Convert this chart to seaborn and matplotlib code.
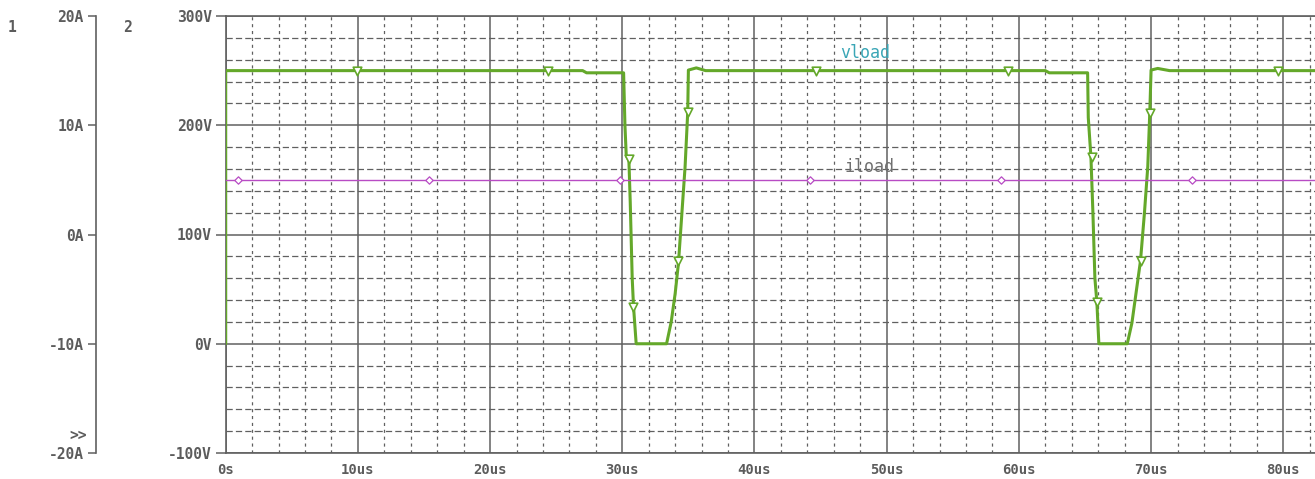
import matplotlib
matplotlib.use("Agg")
import matplotlib.pyplot as plt
import matplotlib.ticker as mticker
import seaborn as sns
import pandas as pd

# ---------------- data ----------------
vload_t = [0, 0, 27.0, 27.3, 30.1, 30.2, 30.3, 30.5, 30.6, 30.75, 30.85, 31.05,
           33.35, 33.7, 34.0, 34.25, 34.75, 34.95, 35.0, 35.6, 36.3,
           62.0, 62.3, 65.2, 65.25, 65.45, 65.6, 65.75, 65.9, 66.05,
           68.2, 68.55, 69.2, 69.5, 69.75, 69.9, 70.0, 70.5, 71.4, 82.4]
vload_v = [0, 250, 250, 248, 248, 200, 172, 168, 130, 60, 34, 0,
           0, 20, 46, 74, 162, 212, 250.5, 252.5, 250,
           250, 248, 248, 207, 171, 120, 60, 38, 0,
           0, 19, 76, 120, 162, 211, 250.5, 252, 250, 250]

vmark_t = [9.95, 24.4, 30.5, 30.82, 34.24, 34.95, 44.65, 59.2, 65.5, 65.9, 69.25, 69.9, 79.6]
vmark_v = [250, 250, 169, 34, 76, 212, 250, 250, 171, 38, 76, 211, 250]

iload_t = [0, 82.4]
iload_a = [5, 5]
imark_t = [0.95, 15.38, 29.8, 44.2, 58.63, 73.07]
imark_a = [5, 5, 5, 5, 5, 5]

x_ticks = [0, 10, 20, 30, 40, 50, 60, 70, 80]
x_labels = ["0s", "10us", "20us", "30us", "40us", "50us", "60us", "70us", "80us"]
v_ticks = [-100, 0, 100, 200, 300]
v_labels = ["-100V", "0V", "100V", "200V", "300V"]
i_ticks = [-20, -10, 0, 10, 20]
i_labels = ["-20A", "-10A", "0A", "10A", "20A"]

# ---------------- style ----------------
sns.set_style("white")
plt.rcParams["font.family"] = ["DejaVu Sans Mono", "DejaVu Sans"]

GREEN = "#64a82a"
MAGENTA = "#b84cc4"
GRAY = "#5c5c5c"
GRID = "#606060"
LBL = 10.5

W, H = 1315, 479
fig = plt.figure(figsize=(W / 100, H / 100), dpi=100)
fig.patch.set_facecolor("white")
left = 225.7 / W
bottom = (H - 453) / H
ax = fig.add_axes([left, bottom, 1 - left, 437 / H])

# voltage trace
df_v = pd.DataFrame({"t": vload_t, "v": vload_v})
sns.lineplot(data=df_v, x="t", y="v", ax=ax, color=GREEN, lw=2.2,
             sort=False, estimator=None, zorder=4)
sns.scatterplot(x=vmark_t, y=vmark_v, ax=ax, marker="v", s=38,
                color=GREEN, zorder=5)
coll = ax.collections[-1]
coll.set_facecolor("white")
coll.set_edgecolor(GREEN)
coll.set_linewidth(1.2)

ax.set_xlim(0, 82.4)
ax.set_ylim(-100, 300)
ax.xaxis.set_major_locator(mticker.FixedLocator(x_ticks))
ax.xaxis.set_major_formatter(mticker.FixedFormatter(x_labels))
ax.yaxis.set_major_locator(mticker.FixedLocator(v_ticks))
ax.yaxis.set_major_formatter(mticker.FixedFormatter(v_labels))
ax.xaxis.set_minor_locator(mticker.MultipleLocator(2))
ax.yaxis.set_minor_locator(mticker.MultipleLocator(20))
ax.grid(which="major", color=GRID, lw=1.1, ls="-", zorder=1)
ax.grid(which="minor", axis="x", color=GRID, lw=0.9, ls=(0, (2.5, 3)), zorder=1)
ax.grid(which="minor", axis="y", color=GRID, lw=0.9, ls=(0, (5, 2.5)), zorder=1)
ax.set_axisbelow(True)
ax.set_xlabel("")
ax.set_ylabel("")

for s in ["left", "bottom", "top"]:
    ax.spines[s].set_color(GRID)
    ax.spines[s].set_linewidth(1.2)
    ax.spines[s].set_visible(True)
ax.spines["right"].set_visible(False)

ax.tick_params(axis="both", which="major", direction="out", length=7,
               width=1.1, color=GRID, labelcolor=GRAY, labelsize=LBL)
ax.tick_params(axis="both", which="minor", length=0)
ax.tick_params(axis="x", pad=0.5, labelsize=10)
ax.tick_params(axis="y", pad=3)
for lab in ax.get_xticklabels() + ax.get_yticklabels():
    lab.set_fontweight("bold")

# current axis
ax2 = ax.twinx()
ax2.set_ylim(-20, 20)
df_i = pd.DataFrame({"t": iload_t, "a": iload_a})
sns.lineplot(data=df_i, x="t", y="a", ax=ax2, color=MAGENTA, lw=1.0,
             sort=False, estimator=None, zorder=3)
sns.scatterplot(x=imark_t, y=imark_a, ax=ax2, marker="D", s=14,
                color=MAGENTA, zorder=5)
c2 = ax2.collections[-1]
c2.set_facecolor("white")
c2.set_edgecolor(MAGENTA)
c2.set_linewidth(0.9)
ax2.set_xlim(0, 82.4)
ax2.set_ylabel("")
ax2.yaxis.set_ticks_position("left")
ax2.yaxis.set_label_position("left")
ax2.spines["left"].set_position(("axes", -0.119))
ax2.spines["left"].set_visible(True)
ax2.spines["left"].set_color(GRID)
ax2.spines["left"].set_linewidth(1.2)
for s in ["right", "top", "bottom"]:
    ax2.spines[s].set_visible(False)
ax2.yaxis.set_major_locator(mticker.FixedLocator(i_ticks))
ax2.yaxis.set_major_formatter(mticker.FixedFormatter(i_labels))
ax2.tick_params(axis="y", which="major", direction="out", length=6, width=1.1,
                color=GRID, labelcolor=GRAY, labelsize=LBL, pad=3)
for lab in ax2.get_yticklabels():
    lab.set_fontweight("bold")

# trace labels
ax.text(46.5, 266, "vload", color="#3aa6b6", fontsize=12, va="center", ha="left", zorder=6)
ax.text(46.8, 162, "iload", color="#707070", fontsize=12, va="center", ha="left", zorder=6)

# axis numbers and marker
fig.text(12 / W, 1 - 27 / H, "1", fontsize=LBL, fontweight="bold", color=GRAY, ha="center", va="center")
fig.text(127 / W, 1 - 27 / H, "2", fontsize=LBL, fontweight="bold", color=GRAY, ha="center", va="center")
fig.text(87 / W, 1 - 435 / H, ">>", fontsize=LBL, fontweight="bold", color=GRAY, ha="right", va="center")

fig.savefig("out.png", dpi=100, facecolor="white")
